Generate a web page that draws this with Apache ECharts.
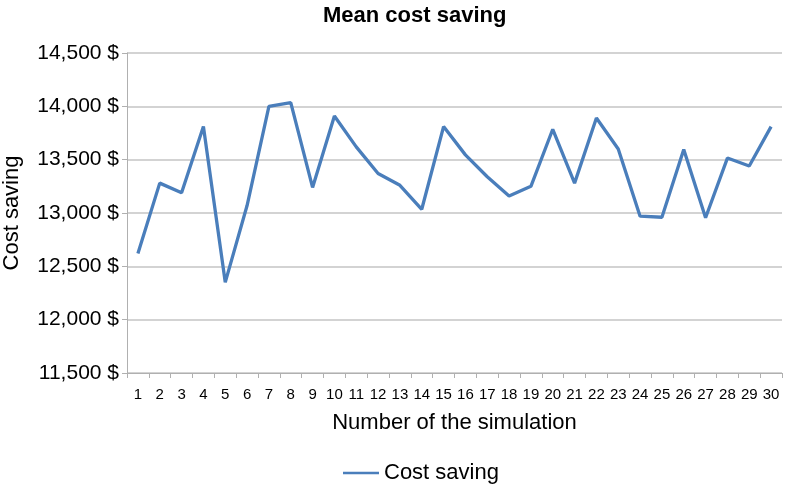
<!DOCTYPE html>
<html>
<head>
<meta charset="utf-8">
<script src="https://cdn.jsdelivr.net/npm/echarts@6/dist/echarts.min.js"></script>
<style>
html,body{margin:0;padding:0;background:#fff;}
#chart{width:785px;height:484px;}
</style>
</head>
<body>
<div id="chart"></div>
<script>
const categories = ['1','2','3','4','5','6','7','8','9','10','11','12','13','14','15','16','17','18','19','20','21','22','23','24','25','26','27','28','29','30'];
const costSaving = [12620,13280,13190,13810,12350,13070,14000,14035,13240,13910,13620,13370,13260,13035,13810,13545,13340,13160,13250,13785,13280,13890,13600,12970,12960,13595,12955,13515,13440,13810];

const FONT = 'Liberation Sans, Arial, Helvetica, sans-serif';
const chart = echarts.init(document.getElementById('chart'));
chart.setOption({
  animation: false,
  backgroundColor: '#ffffff',
  title: {
    text: 'Mean cost saving',
    left: 318, top: 0,
    textStyle: {fontFamily: FONT, fontSize: 22, fontWeight: 'bold', color: '#000'}
  },
  legend: {
    data: ['Cost saving'],
    left: 338, top: 457,
    itemWidth: 36, itemHeight: 14, itemGap: 6,
    icon: 'path://M0,6 L36,6 L36,8.6 L0,8.6 Z',
    textStyle: {fontFamily: FONT, fontSize: 22, color: '#000', padding: [0,0,0,0]}
  },
  grid: {left: 127, right: 3, top: 53, bottom: 111, containLabel: false, outerBoundsMode: 'none'},
  xAxis: {
    type: 'category',
    data: categories,
    boundaryGap: true,
    name: 'Number of the simulation',
    nameLocation: 'middle',
    nameGap: 39,
    nameTextStyle: {fontFamily: FONT, fontSize: 22, color: '#000'},
    axisLine: {lineStyle: {color: '#b0b0b0', width: 1}},
    axisTick: {show: true, alignWithLabel: false, length: 5, lineStyle: {color: '#b0b0b0'}},
    axisLabel: {interval: 0, margin: 14, fontFamily: FONT, fontSize: 15, color: '#000'},
    splitLine: {show: false}
  },
  yAxis: {
    type: 'value',
    min: 11500, max: 14500, interval: 500,
    name: 'Cost saving',
    nameLocation: 'middle',
    nameRotate: 90,
    nameGap: 104,
    nameTextStyle: {fontFamily: FONT, fontSize: 22, color: '#000'},
    axisLine: {show: true, lineStyle: {color: '#b0b0b0', width: 1}},
    axisTick: {show: true, length: 5, lineStyle: {color: '#b0b0b0'}},
    axisLabel: {
      margin: 8, fontFamily: FONT, fontSize: 21, color: '#000',
      formatter: v => v.toLocaleString('en-US') + ' $'
    },
    splitLine: {show: true, lineStyle: {color: '#c4c4c4', width: 1.5}}
  },
  series: [{
    name: 'Cost saving',
    type: 'line',
    data: costSaving,
    symbol: 'none',
    lineStyle: {color: '#4a7ebb', width: 3.3},
    itemStyle: {color: '#4a7ebb'}
  }]
});
</script>
</body>
</html>
